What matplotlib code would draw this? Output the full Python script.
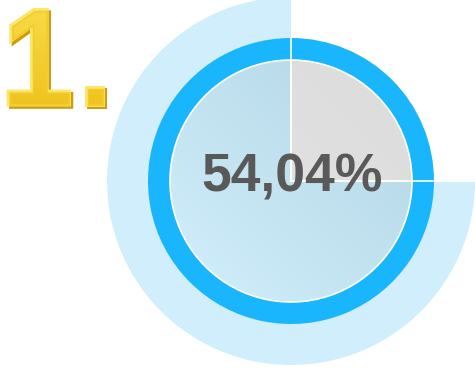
import numpy as np
import matplotlib.pyplot as plt
from matplotlib.patches import Wedge, PathPatch
from matplotlib.textpath import TextPath
from matplotlib.font_manager import FontProperties
from matplotlib.transforms import Affine2D
from matplotlib.colors import LinearSegmentedColormap

# 数据
rank_label = "1."
percent_label = "54,04%"
outer_parts = [75, 25]     # 外圈: 浅蓝 / 空
inner_parts = [25, 75]     # 内圆: 灰 / 浅蓝(从12点开始顺时针)

W, H = 475, 369
cx, cy = 291, 181
r_outer, r_ring, r_inner = 184, 143, 121

fig = plt.figure(figsize=(W / 100, H / 100), dpi=100)
ax = fig.add_axes([0, 0, 1, 1])


def angles(parts, start):
    # 百分比 -> 角度区间 (y轴翻转后角度为顺时针)
    edges = start + np.cumsum([0] + list(parts)) / 100 * 360
    return list(zip(edges[:-1], edges[1:]))


def grad_img(x0, x1, y0, y1, c0, c1, n=200, diag=True):
    xs = np.linspace(0, 1, n)
    ys = np.linspace(0, 1, n)
    X, Y = np.meshgrid(xs, ys)
    t = (X + (1 - Y)) / 2 if diag else Y
    cmap = LinearSegmentedColormap.from_list("g", [c0, c1])
    return ax.imshow(cmap(t), extent=(x0, x1, y1, y0), origin="upper",
                     interpolation="bilinear", zorder=3)


# 外圈浅蓝扇形
th0, th1 = angles(outer_parts, 0)[0]
ax.add_patch(Wedge((cx, cy), r_outer, th0, th1, facecolor="#d0eefc",
                   edgecolor="none", zorder=1))

# 亮蓝色圆环
segs = angles(inner_parts, -90)
for a, b in segs:
    ax.add_patch(Wedge((cx, cy), r_ring, a, b, width=r_ring - r_inner,
                       facecolor="#19b6fe", edgecolor="none", zorder=2))

# 内圆: 灰色 + 浅蓝渐变
fills = [("#e4e4e4", "#dcdcdc"), ("#d2effc", "#b2d5e4")]
for (a, b), (c0, c1) in zip(segs, fills):
    w = Wedge((cx, cy), r_inner, a, b, facecolor="none", edgecolor="none")
    ax.add_patch(w)
    im = grad_img(cx - r_inner, cx + r_inner, cy - r_inner, cy + r_inner, c0, c1)
    im.set_clip_path(w)
    ax.add_patch(Wedge((cx, cy), r_inner, a, b, facecolor="none",
                       edgecolor="white", lw=1.2, zorder=4))

# 分隔白线: 12点到圆环外沿, 3点到外圈外沿
for a in [segs[0][0], segs[0][1]]:
    rr = r_ring if a < 0 else r_outer
    t = np.deg2rad(a)
    ax.plot([cx, cx + rr * np.cos(t)], [cy, cy + rr * np.sin(t)],
            color="white", lw=1.2, solid_capstyle="butt", zorder=4)

# 中间百分比
ax.text(cx + 1.5, 192, percent_label, fontsize=38.5, fontweight="bold",
        family="Liberation Sans", color="#595959", ha="center", va="baseline",
        zorder=6)

# 金色 "1." (斜面效果), 两个字符分开放
fp = FontProperties(family="Liberation Sans")
glyphs = [(rank_label[0], 1), (rank_label[1], 77)]
for ch, x0 in glyphs:
    tp = TextPath((0, 0), ch, size=133, prop=fp)
    base = Affine2D().scale(1, -1).translate(x0, 104)
    for dx, dy, col in [(1.3, 1.3, "#cc9c0a"), (-1.0, -1.0, "#fbe66a")]:
        p = tp.transformed(base + Affine2D().translate(dx, dy))
        ax.add_patch(PathPatch(p, facecolor=col, edgecolor=col, lw=5,
                               joinstyle="miter", zorder=5))
    face = tp.transformed(base)
    clip = PathPatch(face, facecolor="none", edgecolor="#f3cb2a", lw=2.5,
                     joinstyle="miter", zorder=5.5)
    ax.add_patch(clip)
    im = grad_img(0, 120, 0, 110, "#f9dc48", "#efc21e", diag=False)
    im.set_zorder(6)
    im.set_clip_path(clip)

ax.set_xlim(0, W)
ax.set_ylim(H, 0)
ax.set_aspect("auto")
ax.axis("off")
fig.savefig("out.png", dpi=100)
